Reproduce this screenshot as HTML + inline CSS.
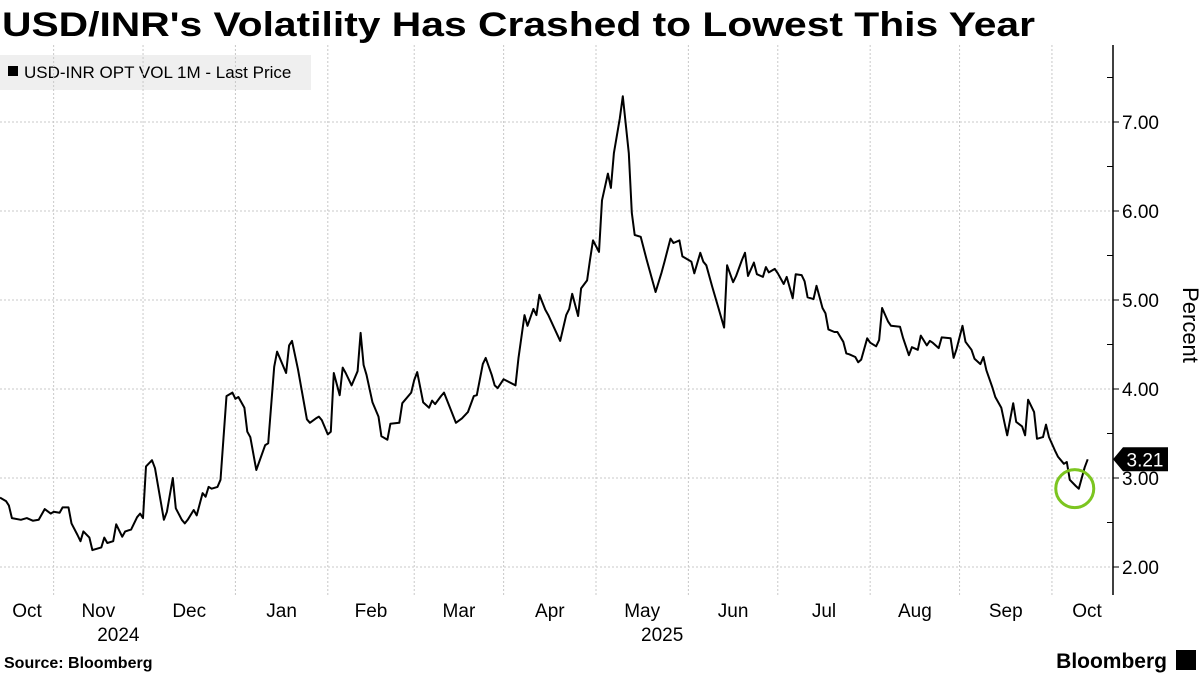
<!DOCTYPE html>
<html><head><meta charset="utf-8"><style>
body{margin:0;background:#fff;width:1200px;height:675px;overflow:hidden;font-family:"Liberation Sans",sans-serif}
</style></head><body>
<svg width="1200" height="675" style="position:absolute;left:0;top:0">
<text x="2" y="36" font-size="34" font-weight="bold" fill="#000" textLength="1033" lengthAdjust="spacingAndGlyphs">USD/INR's Volatility Has Crashed to Lowest This Year</text>
<g>
<rect x="0" y="55" width="311" height="35" fill="#efefef"/>
<rect x="8" y="66" width="10" height="10" fill="#000"/>
<text x="24" y="78" font-size="17" fill="#000">USD-INR OPT VOL 1M - Last Price</text>
</g>
<g id="grid"></g>
<g id="axis"></g>
<path id="line" fill="none" stroke="#000" stroke-width="2" stroke-linejoin="round"/>
<circle id="hl" r="19" fill="none" stroke="#7cc520" stroke-width="3"/>
<g id="tag"></g>
<text x="1183" y="325" font-size="22" transform="rotate(90 1183 325)" text-anchor="middle">Percent</text>
<text x="4" y="668" font-size="16" font-weight="bold">Source: Bloomberg</text>
<text x="1167" y="668" font-size="21" font-weight="bold" text-anchor="end">Bloomberg</text>
<rect x="1176" y="650" width="20" height="20" fill="#000"/>
</svg>
<script>
const days=[0,2,3,4,7,9,11,13,15,17,18,20,21,23,24,26,27,28,30,31,34,35,36,38,39,41,42,44,46,47,48,49,51,52,53,55,56,58,59,61,62,63,65,66,68,69,70,71,73,74,76,78,79,80,82,83,84,86,89,90,92,93,96,97,98,100,101,103,104,106,107,108,110,111,112,114,115,116,118,120,121,122,123,125,127,128,130,131,134,135,138,139,140,142,144,145,146,148,149,151,153,155,157,159,160,162,163,165,166,167,169,173,174,176,177,179,180,181,183,184,187,188,190,191,192,194,195,197,198,199,201,202,204,205,206,208,209,211,212,213,215,217,220,222,223,225,226,228,229,231,232,233,235,236,237,239,241,243,244,246,247,249,250,251,253,254,256,257,258,260,261,263,264,266,267,269,270,271,273,274,276,277,278,280,281,283,284,285,287,288,289,291,292,294,295,296,298,299,302,303,305,306,308,309,311,312,313,315,316,319,320,321,323,324,326,327,329,330,331,333,334,336,337,338,340,341,343,344,345,347,348,350,351,352,354,355,357,358,359,361,362,364,365];
const vols=[2.78,2.74,2.69,2.55,2.53,2.55,2.52,2.53,2.65,2.60,2.62,2.61,2.67,2.67,2.49,2.36,2.29,2.40,2.33,2.19,2.22,2.33,2.27,2.29,2.48,2.34,2.40,2.42,2.56,2.60,2.55,3.13,3.20,3.11,2.92,2.53,2.62,3.00,2.66,2.53,2.49,2.53,2.64,2.58,2.83,2.79,2.90,2.88,2.90,2.98,3.92,3.96,3.89,3.91,3.79,3.52,3.46,3.09,3.37,3.39,4.25,4.42,4.18,4.49,4.54,4.22,4.03,3.66,3.62,3.67,3.69,3.65,3.49,3.52,4.18,3.93,4.24,4.18,4.04,4.20,4.63,4.27,4.16,3.85,3.69,3.47,3.43,3.61,3.62,3.84,3.96,4.10,4.19,3.85,3.79,3.87,3.83,3.92,3.96,3.79,3.62,3.67,3.74,3.92,3.93,4.28,4.35,4.16,4.04,4.01,4.11,4.04,4.35,4.83,4.71,4.90,4.83,5.06,4.89,4.83,4.61,4.54,4.83,4.90,5.07,4.82,5.13,5.22,5.45,5.67,5.54,6.12,6.42,6.26,6.65,7.04,7.29,6.65,5.98,5.73,5.71,5.45,5.09,5.31,5.43,5.69,5.64,5.67,5.49,5.45,5.43,5.30,5.53,5.43,5.39,5.15,4.92,4.69,5.39,5.20,5.27,5.45,5.53,5.27,5.42,5.29,5.26,5.37,5.31,5.35,5.30,5.18,5.26,5.02,5.29,5.28,5.21,5.03,5.01,5.16,4.91,4.85,4.67,4.64,4.64,4.53,4.40,4.39,4.36,4.30,4.33,4.57,4.52,4.48,4.55,4.91,4.76,4.71,4.70,4.58,4.38,4.47,4.44,4.60,4.49,4.54,4.52,4.46,4.58,4.57,4.35,4.45,4.71,4.53,4.44,4.34,4.28,4.36,4.21,4.02,3.91,3.79,3.63,3.48,3.84,3.63,3.58,3.48,3.88,3.74,3.44,3.46,3.60,3.46,3.31,3.24,3.16,3.18,2.98,2.91,2.88,3.12,3.21];
const yTicks=[2,3,4,5,6,7];
const monthLabels=["Oct","Nov","Dec","Jan","Feb","Mar","Apr","May","Jun","Jul","Aug","Sep","Oct"];
const monthStarts=[-12,18,48,79,110,139,169,200,231,261,292,322,353];
const yearLabels=["2024","2025"];
const lastValue="3.21";
const NS="http://www.w3.org/2000/svg";
const xS=d=>d*2.98, yS=v=>567-(v-2)*89;
function mk(tag,attrs,parent,txt){const e=document.createElementNS(NS,tag);for(const k in attrs)e.setAttribute(k,attrs[k]);if(txt!=null)e.textContent=txt;parent.appendChild(e);return e;}
const grid=document.getElementById('grid'),axis=document.getElementById('axis');
yTicks.forEach(t=>{
 const g=mk('line',{x1:0,x2:1113,y1:yS(t),y2:yS(t),stroke:'#c8c8c8','stroke-dasharray':'2,2'},grid);
 
 
 const tx=mk('text',{x:1122,y:yS(t)+7,'font-size':19},axis,t.toFixed(2));
 
 
 mk('line',{x1:1113,x2:1119,y1:yS(t),y2:yS(t),stroke:'#000'},axis);
 mk('line',{x1:1107,x2:1113,y1:yS(t+0.5),y2:yS(t+0.5),stroke:'#000'},axis);
});
mk('line',{x1:1113,x2:1113,y1:45,y2:595,stroke:'#000','stroke-width':1.5},axis);
monthStarts.forEach((d,i)=>{
 if(i>0){const g=mk('line',{x1:xS(d),x2:xS(d),y1:45,y2:595,stroke:'#c8c8c8','stroke-dasharray':'2,2'},grid);
 
 }
 const next=i<monthStarts.length-1?monthStarts[i+1]:365;
 const c=i==0?27:(i==12?1087:xS((d+next)/2));
 const tx=mk('text',{x:c,y:617,'font-size':19,'text-anchor':'middle'},axis,monthLabels[i]);
 
 
});
[[1,0],[7,1]].forEach(([m,j])=>{
 const c=xS((monthStarts[m]+monthStarts[m+1])/2)+20;
 const tx=mk('text',{x:c,y:641,'font-size':19,'text-anchor':'middle'},axis,yearLabels[j]);
 
 
});
document.getElementById('line').setAttribute('d',days.map((d,i)=>(i?'L':'M')+xS(d).toFixed(1)+','+yS(vols[i]).toFixed(1)).join(''));
let mi=vols.length-10;for(let i=vols.length-10;i<vols.length;i++){if(vols[i]<vols[mi])mi=i;}
const hl=document.getElementById('hl');hl.setAttribute('cx',xS(days[mi])-4);hl.setAttribute('cy',yS(vols[mi]));
const tag=document.getElementById('tag'),ly=yS(vols[vols.length-1]);
mk('path',{d:`M1113,${ly} L1123,${ly-12} L1168,${ly-12} L1168,${ly+12} L1123,${ly+12} Z`,fill:'#000'},tag);
mk('text',{x:1145,y:ly+7,'font-size':19,fill:'#fff','text-anchor':'middle'},tag,lastValue);
</script>
</body></html>
